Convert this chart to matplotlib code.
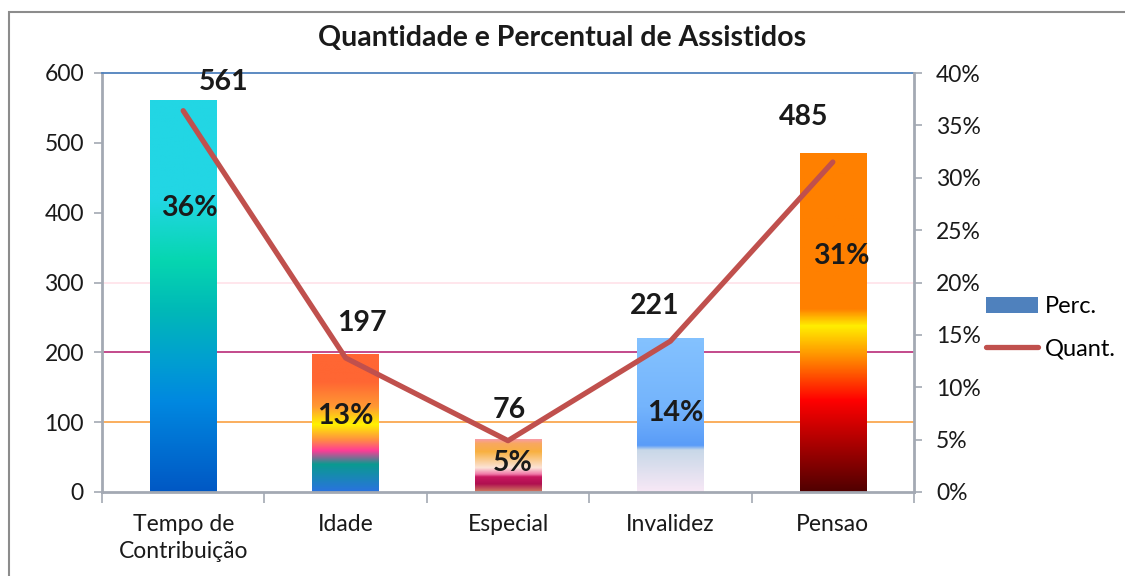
import numpy as np
import matplotlib
matplotlib.use("Agg")
import matplotlib.pyplot as plt
from matplotlib.colors import LinearSegmentedColormap
from matplotlib.patches import Rectangle, Patch
from matplotlib.lines import Line2D
from matplotlib.ticker import FuncFormatter

plt.rcParams["font.family"] = ["Lato", "DejaVu Sans"]

# data
categorias = ["Tempo de\nContribuição", "Idade", "Especial", "Invalidez", "Pensao"]
quantidade = [561, 197, 76, 221, 485]
percentual = [36.4, 12.8, 4.9, 14.4, 31.5]
perc_labels = ["36%", "13%", "5%", "14%", "31%"]

# label placement (x shift in category units, y in left-axis units)
num_dx = [0.25, 0.10, 0.01, -0.10, -0.18]
num_y = [587, 242, 117, 266, 537]
pct_dx = [0.04, 0.0, 0.03, 0.03, 0.05]
pct_y = [407, 109, 42, 113, 338]

# gradient stops per bar, bottom (0) to top (1)
gradientes = [
    [(0, "#0058C4"), (0.23, "#0088E0"), (0.34, "#00A0D0"), (0.46, "#00B8B8"),
     (0.59, "#06D6B0"), (0.75, "#22D6E4"), (1, "#22D6E4")],
    [(0, "#2A72E0"), (0.2, "#0A9A90"), (0.3, "#FF3C96"), (0.38, "#FF9040"),
     (0.49, "#FFF200"), (0.62, "#FF9933"), (0.8, "#FF6633"), (1, "#FF6633")],
    [(0, "#D08060"), (0.15, "#B01050"), (0.28, "#C81860"), (0.33, "#F078A8"),
     (0.45, "#FCE4D8"), (0.75, "#F8B040"), (0.9, "#F8A860"), (1, "#F898B8")],
    [(0, "#F8E8F6"), (0.27, "#C8D8E8"), (0.3, "#5A9CF8"), (0.55, "#74B4FC"),
     (1, "#84C2FF")],
    [(0, "#500000"), (0.15, "#B00000"), (0.27, "#FF0000"), (0.4, "#FF9000"),
     (0.49, "#FFEE00"), (0.54, "#FF8000"), (1, "#FF8000")],
]

x = np.arange(len(categorias))
W, H = 1125, 576

fig = plt.figure(figsize=(W / 100, H / 100), dpi=100)
fig.patches.append(Rectangle((9 / W, -0.1), 1.2, 1 - 12 / H + 0.1, transform=fig.transFigure,
                             fill=False, edgecolor="#8C8C8C", lw=1.5))
fig.text(0.4996, 1 - 38 / H, "Quantidade e Percentual de Assistidos", ha="center", va="center",
         fontsize=20.5, fontweight="bold", color="#1A1A1A")

ax = fig.add_axes([102 / W, (H - 492) / H, 812 / W, 419 / H])
ax2 = ax.twinx()

# gridlines
ax.axhline(100, color="#FAA850", lw=1.3, zorder=1)
ax.axhline(200, color="#BE3C82", lw=1.3, zorder=1)
ax.axhline(300, color="#FFE4EA", lw=1.3, zorder=1)

bars = ax.bar(x, quantidade, width=0.41, color="none", zorder=2)
for b, stops in zip(bars, gradientes):
    cmap = LinearSegmentedColormap.from_list("g", stops)
    grad = np.linspace(0, 1, 256).reshape(-1, 1)
    im = ax.imshow(grad, cmap=cmap, origin="lower", aspect="auto", zorder=2,
                   extent=[b.get_x(), b.get_x() + b.get_width(), 0, b.get_height()])
    im.set_clip_path(b)

ax.set_xlim(-0.5, 4.5)
ax.set_ylim(0, 600)
ax.set_yticks(range(0, 601, 100))
ax.set_xticks(np.arange(-0.5, 5, 1))
ax.set_xticklabels([])
ax.set_xticks(x, minor=True)
ax.set_xticklabels(categorias, minor=True)
for t in ax.get_xticklabels(minor=True):
    t.set_linespacing(1.35)

axis_gray = "#A3A9B3"
ax.tick_params(axis="y", direction="out", length=6, width=1.2, color=axis_gray, pad=7,
               labelsize=16.5, labelcolor="#1A1A1A")
ax.tick_params(axis="x", which="major", direction="out", length=8, width=1.2, color=axis_gray)
ax.tick_params(axis="x", which="minor", length=0, pad=16, labelsize=16.5, labelcolor="#1A1A1A")
for s in ["left", "bottom"]:
    ax.spines[s].set_color(axis_gray)
    ax.spines[s].set_linewidth(2)
ax.spines["top"].set_color("#4F81BD")
ax.spines["top"].set_linewidth(1.3)
ax.spines["right"].set_visible(False)

# line on the percent axis
ax2.plot(x, percentual, color="#C0504D", lw=3.8, solid_capstyle="round",
         solid_joinstyle="round", zorder=3)
ax2.set_ylim(0, 40)
ax2.set_yticks(range(0, 41, 5))
ax2.yaxis.set_major_formatter(FuncFormatter(lambda v, p: f"{v:.0f}%"))
ax2.tick_params(axis="y", direction="out", length=6, width=1.2, color=axis_gray, pad=10,
                labelsize=16.5, labelcolor="#1A1A1A")
for s in ["left", "bottom", "top"]:
    ax2.spines[s].set_visible(False)
ax2.spines["right"].set_color(axis_gray)
ax2.spines["right"].set_linewidth(2)

# data labels
for i in range(len(x)):
    ax2.text(x[i] + num_dx[i], num_y[i], str(quantidade[i]), transform=ax.transData,
             ha="center", va="center", fontsize=20.5, fontweight="bold", color="#1A1A1A", zorder=5)
    ax2.text(x[i] + pct_dx[i], pct_y[i], perc_labels[i], transform=ax.transData,
             ha="center", va="center", fontsize=20.5, fontweight="bold", color="#1A1A1A", zorder=5)

handles = [Patch(facecolor="#4F81BD", edgecolor="none"),
           Line2D([], [], color="#C0504D", lw=3.8, solid_capstyle="round")]
fig.legend(handles, ["Perc.", "Quant."], loc="center left", bbox_to_anchor=(986 / W, 1 - 328 / H),
           frameon=False, fontsize=17, handlelength=2.2, handletextpad=0.3, labelspacing=0.9,
           borderpad=0, borderaxespad=0)

fig.savefig("out.png", dpi=100)
